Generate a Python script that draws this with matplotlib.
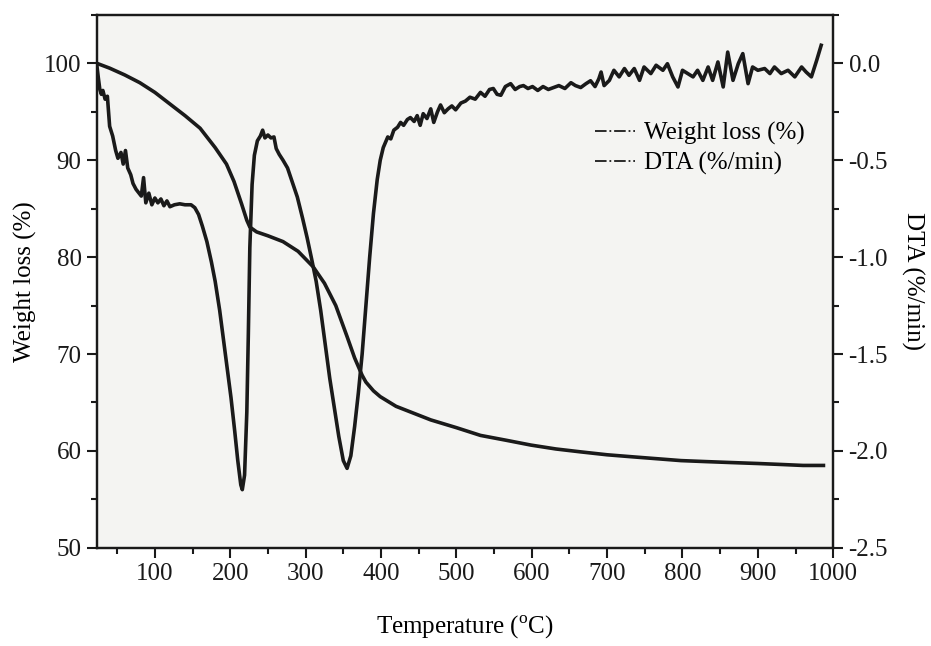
import numpy as np
import matplotlib
matplotlib.use("Agg")
import matplotlib.pyplot as plt
from matplotlib.lines import Line2D
from matplotlib.ticker import MultipleLocator

plt.rcParams['font.family'] = ['Liberation Serif', 'DejaVu Serif']
plt.rcParams['mathtext.fontset'] = 'custom'
plt.rcParams['mathtext.rm'] = 'Liberation Serif'

# TGA curve (left axis, %)
tg_temp = [23, 40, 60, 80, 100, 120, 140, 160, 180, 195, 205, 215, 222, 226,
           235, 250, 270, 290, 310, 325, 340, 355, 365, 375, 380, 390, 399,
           420, 443, 466, 500, 532, 566, 599, 632, 665, 700, 732, 765, 798,
           830, 864, 900, 931, 960, 987]
tg_weight = [100.0, 99.5, 98.8, 98.0, 97.0, 95.8, 94.6, 93.3, 91.3, 89.6, 87.8,
             85.5, 83.8, 83.1, 82.6, 82.2, 81.6, 80.6, 79.0, 77.3, 75.0, 71.8,
             69.6, 67.8, 67.1, 66.2, 65.6, 64.6, 63.9, 63.2, 62.4, 61.6, 61.1,
             60.6, 60.2, 59.9, 59.6, 59.4, 59.2, 59.0, 58.9, 58.8, 58.7, 58.6,
             58.5, 58.5]

# DTA curve (right axis, %/min)
dta_temp = [23, 25, 27, 29, 31, 34, 37, 40, 44, 48, 51, 55, 58, 61, 64, 68, 71,
            75, 79, 82, 85, 88, 92, 96, 100, 104, 108, 112, 116, 120, 126, 133,
            140, 148, 153, 158, 163, 169, 175, 180, 186, 191, 196, 201, 206,
            210, 214, 216, 219, 222, 224, 226, 229, 232, 236, 240, 243, 246,
            250, 254, 258, 261, 265, 270, 276, 282, 289, 296, 302, 308, 314,
            320, 326, 332, 338, 344, 350, 355, 360, 365, 370, 375, 380, 385,
            390, 395, 399, 403, 409, 413, 417, 422, 426, 430, 435, 439, 444,
            448, 452, 456, 461, 466, 470, 475, 479, 484, 489, 494, 499, 506,
            512, 518, 525, 532, 538, 544, 549, 554, 559, 565, 572, 578, 584,
            589, 595, 601, 608, 615, 622, 629, 636, 644, 652, 658, 665, 672,
            678, 684, 689, 692, 696, 703, 709, 716, 723, 729, 736, 743, 749,
            758, 765, 774, 780, 787, 794, 800, 807, 814, 820, 827, 834, 840,
            847, 854, 860, 867, 874, 880, 887, 893, 900, 909, 916, 922, 931,
            940, 949, 958, 964, 971, 978, 984]
dta_value = [-0.01, -0.075, -0.135, -0.16, -0.14, -0.185, -0.17, -0.325, -0.375,
             -0.45, -0.49, -0.46, -0.52, -0.45, -0.54, -0.575, -0.62, -0.65,
             -0.67, -0.685, -0.59, -0.72, -0.67, -0.73, -0.695, -0.72, -0.70,
             -0.735, -0.71, -0.74, -0.73, -0.725, -0.73, -0.73, -0.745, -0.78,
             -0.84, -0.92, -1.025, -1.125, -1.275, -1.425, -1.575, -1.725,
             -1.90, -2.05, -2.175, -2.20, -2.125, -1.80, -1.40, -0.95, -0.625,
             -0.475, -0.40, -0.375, -0.345, -0.385, -0.37, -0.385, -0.38,
             -0.44, -0.47, -0.50, -0.54, -0.61, -0.69, -0.80, -0.90, -1.01,
             -1.125, -1.275, -1.45, -1.625, -1.775, -1.925, -2.05, -2.09,
             -2.025, -1.875, -1.70, -1.50, -1.25, -1.00, -0.775, -0.60, -0.50,
             -0.435, -0.38, -0.39, -0.345, -0.33, -0.305, -0.32, -0.29, -0.28,
             -0.30, -0.27, -0.32, -0.26, -0.285, -0.235, -0.305, -0.25, -0.215,
             -0.255, -0.235, -0.22, -0.24, -0.205, -0.195, -0.175, -0.185,
             -0.15, -0.17, -0.135, -0.13, -0.16, -0.165, -0.12, -0.105, -0.135,
             -0.12, -0.115, -0.13, -0.12, -0.14, -0.12, -0.135, -0.125, -0.115,
             -0.13, -0.10, -0.115, -0.125, -0.105, -0.09, -0.12, -0.08, -0.045,
             -0.115, -0.088, -0.036, -0.070, -0.027, -0.062, -0.027, -0.088,
             -0.019, -0.053, -0.010, -0.036, -0.002, -0.070, -0.122, -0.036,
             -0.053, -0.070, -0.036, -0.088, -0.019, -0.088, 0.007, -0.122,
             0.058, -0.088, -0.002, 0.050, -0.105, -0.019, -0.036, -0.027,
             -0.053, -0.019, -0.053, -0.036, -0.070, -0.019, -0.045, -0.070,
             0.015, 0.093]

fig = plt.figure(figsize=(9.31, 6.46), dpi=100)
ax1 = fig.add_axes([0.104, 0.152, 0.791, 0.825])
ax1.set_facecolor('#f4f4f2')
ax2 = ax1.twinx()

ax1.plot(tg_temp, tg_weight, color='#1a1a1a', linewidth=2.6)
ax2.plot(dta_temp, dta_value, color='#1a1a1a', linewidth=2.6)

ax1.set_xlim(23, 1000)
ax1.set_ylim(50, 105)
ax2.set_ylim(-2.5, 0.25)

ax1.set_xticks([100, 200, 300, 400, 500, 600, 700, 800, 900, 1000])
ax1.xaxis.set_minor_locator(MultipleLocator(50))
ax1.set_yticks([50, 60, 70, 80, 90, 100])
ax1.yaxis.set_minor_locator(MultipleLocator(5))
ax2.set_yticks([-2.5, -2.0, -1.5, -1.0, -0.5, 0.0])
ax2.set_yticklabels(['-2.5', '-2.0', '-1.5', '-1.0', '-0.5', '0.0'])
ax2.yaxis.set_minor_locator(MultipleLocator(0.25))

for ax in (ax1, ax2):
    for s in ax.spines.values():
        s.set_linewidth(1.6)
        s.set_color('#1a1a1a')
ax1.tick_params(axis='x', which='major', length=7, width=1.5, labelsize=18,
                color='#1a1a1a', labelcolor='#1a1a1a', pad=4)
ax1.tick_params(axis='x', which='minor', length=4, width=1.5,
                color='#1a1a1a')
ax1.tick_params(axis='y', which='major', length=7, width=1.5, labelsize=18,
                color='#1a1a1a', labelcolor='#1a1a1a', pad=4)
ax1.tick_params(axis='y', which='minor', length=4, width=1.5,
                color='#1a1a1a')
ax2.tick_params(axis='y', which='major', length=7, width=1.5, labelsize=18,
                color='#1a1a1a', labelcolor='#1a1a1a', pad=4)
ax2.tick_params(axis='y', which='minor', length=4, width=1.5,
                color='#1a1a1a')

ax1.set_xlabel('Temperature ($^{\\rm o}$C)', fontsize=18, labelpad=21)
ax1.set_ylabel('Weight loss (%)', fontsize=18, labelpad=5)
ax2.set_ylabel('DTA (%/min)', fontsize=18, rotation=270, labelpad=26)

handles = [Line2D([], [], color='#1a1a1a', linestyle='-.', linewidth=1.3),
           Line2D([], [], color='#1a1a1a', linestyle='-.', linewidth=1.3)]
ax1.legend(handles, ['Weight loss (%)', 'DTA (%/min)'], loc='upper right',
           bbox_to_anchor=(0.985, 0.832), frameon=False, fontsize=18,
           handlelength=1.6, handletextpad=0.35, labelspacing=0.28,
           borderpad=0.2)

# no tick marks along the top edge
for t in ax1.xaxis.get_major_ticks() + ax1.xaxis.get_minor_ticks():
    t.tick2line.set_visible(False)

fig.savefig('out.png', dpi=100)
